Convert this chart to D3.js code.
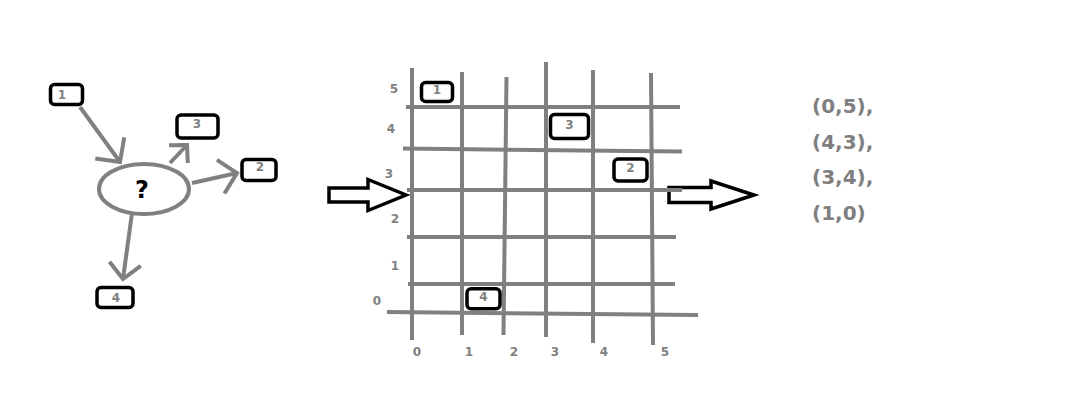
<!DOCTYPE html>
<html><head><meta charset="utf-8">
<script src="https://cdn.jsdelivr.net/npm/d3@7"></script>
<style>html,body{margin:0;padding:0;background:#fff;}svg{display:block}</style>
</head><body><svg id="c" width="1088" height="417"></svg>
<script>
// ---------- data ----------
const nodeIds = [1, 2, 3, 4];
const pointX = [0, 4, 3, 1];          // grid column of node 1..4
const pointY = [5, 3, 4, 0];          // grid row of node 1..4
const gridXTicks = [0, 1, 2, 3, 4, 5];
const gridYTicks = [0, 1, 2, 3, 4, 5];
const edgeFrom = ["1", "?", "?", "?"];
const edgeTo   = ["?", "3", "2", "4"];

// ---------- layout / style ----------
const GRAY = "#808080", BLACK = "#000";
const FONT = "'DejaVu Sans', sans-serif";
const svg = d3.select("#c");

// left diagram layout (hand-drawn placement)
const nodePos = {
  "1": {cx: 66.5, cy: 94.5, w: 32, h: 20, lx: 62, ly: 99},
  "3": {cx: 197.5, cy: 126.5, w: 41, h: 23, lx: 197, ly: 128},
  "2": {cx: 259, cy: 170, w: 34, h: 21, lx: 260, ly: 171},
  "4": {cx: 115, cy: 297.5, w: 36, h: 20, lx: 116, ly: 302}
};
const edgeShaft = [
  [[80, 107], [120, 162]],
  [[170, 163], [187, 145]],
  [[192, 183], [237, 173]],
  [[132, 213], [123, 279]]
];
const armLen = [25, 18, 24, 22];

// grid scales (hand-drawn spacing, polylinear)
const xLine = d3.scaleLinear().domain([0, 1, 2, 3, 4, 5]).range([412, 462, 505, 546, 593, 652]);
const yLine = d3.scaleLinear().domain([0, 1, 2, 3, 4, 5, 6]).range([313.5, 284, 237, 190, 150, 107, 77]);
const vTop = [68, 72, 77, 62, 70, 73], vBot = [340, 335, 335, 337, 343, 345];
const vTilt = [0, 0, -3, 0, 0, 2];
const hLeft = [387, 408, 407, 407, 403, 406], hRight = [698, 675, 676, 682, 682, 680];
const hTilt = [3, 0, 0, 0, 3, 0];
const xLab = d3.scaleLinear().domain([0, 1, 2, 3, 4, 5]).range([417, 469, 514, 555, 604, 665]);
const yLabY = d3.scaleLinear().domain([0, 1, 2, 3, 4, 5]).range([305, 270, 223, 178, 133, 93]);
const yLabX = [377, 395, 395, 389, 391, 394];
const gridBox = {
  "1": {w: 31, h: 19, dx: 0, dy: 0},
  "3": {w: 38, h: 24, dx: 0, dy: -2},
  "2": {w: 33, h: 22, dx: 8, dy: 0},
  "4": {w: 33, h: 20, dx: 0, dy: 0}
};

// ---------- hollow arrows (drawn first so gray strokes lie on top) ----------
function hollowArrow(x0, xh, xt, yc, sh, hh) {
  const pts = [[x0, yc - sh], [xh, yc - sh], [xh, yc - hh], [xt, yc], [xh, yc + hh], [xh, yc + sh], [x0, yc + sh]];
  return d3.line()(pts) + "Z";
}
svg.append("path").attr("d", hollowArrow(329, 368, 406, 195, 7, 15.5))
  .attr("fill", "#fff").attr("stroke", BLACK).attr("stroke-width", 3.5).attr("stroke-linejoin", "miter");
svg.append("path").attr("d", hollowArrow(669, 711, 754, 195, 7.5, 14))
  .attr("fill", "#fff").attr("stroke", BLACK).attr("stroke-width", 3.5).attr("stroke-linejoin", "miter");

// ---------- left diagram ----------
const L = svg.append("g");
L.append("ellipse").attr("cx", 144).attr("cy", 189).attr("rx", 45).attr("ry", 25)
  .attr("fill", "none").attr("stroke", GRAY).attr("stroke-width", 4);
L.append("text").attr("x", 142).attr("y", 198).attr("text-anchor", "middle")
  .attr("font-family", FONT).attr("font-weight", "bold").attr("font-size", 24)
  .attr("fill", BLACK).text("?");

edgeFrom.forEach((f, i) => {
  const [a, b] = edgeShaft[i];
  const ang = Math.atan2(a[1] - b[1], a[0] - b[0]);
  const arm = s => [b[0] + armLen[i] * Math.cos(ang + s), b[1] + armLen[i] * Math.sin(ang + s)];
  const g = L.append("g").attr("fill", "none").attr("stroke", GRAY).attr("stroke-width", 4);
  g.append("path").attr("d", d3.line()([a, b]));
  g.append("path").attr("d", d3.line()([arm(0.8), b, arm(-0.8)])).attr("stroke-linejoin", "miter");
});

nodeIds.forEach(id => {
  const p = nodePos[id];
  L.append("rect").attr("x", p.cx - p.w / 2).attr("y", p.cy - p.h / 2)
    .attr("width", p.w).attr("height", p.h).attr("rx", 4)
    .attr("fill", "#fff").attr("stroke", BLACK).attr("stroke-width", 3.5);
  L.append("text").attr("x", p.lx).attr("y", p.ly).attr("text-anchor", "middle")
    .attr("font-family", FONT).attr("font-weight", "bold").attr("font-size", 12)
    .attr("fill", GRAY).text(id);
});

// ---------- grid ----------
const G = svg.append("g");
gridXTicks.forEach((t, i) => {
  G.append("line").attr("x1", xLine(t) - vTilt[i] / 2).attr("x2", xLine(t) + vTilt[i] / 2)
    .attr("y1", vTop[i]).attr("y2", vBot[i])
    .attr("stroke", GRAY).attr("stroke-width", 4);
});
gridYTicks.forEach((t, i) => {
  G.append("line").attr("x1", hLeft[i]).attr("x2", hRight[i])
    .attr("y1", yLine(t) - hTilt[i] / 2).attr("y2", yLine(t) + hTilt[i] / 2)
    .attr("stroke", GRAY).attr("stroke-width", 4);
});
G.selectAll("text.xl").data(gridXTicks).join("text").attr("class", "xl")
  .attr("x", d => xLab(d)).attr("y", 356).attr("text-anchor", "middle")
  .attr("font-family", FONT).attr("font-weight", "bold").attr("font-size", 12)
  .attr("fill", GRAY).text(d => d);
G.selectAll("text.yl").data(gridYTicks).join("text").attr("class", "yl")
  .attr("x", (d, i) => yLabX[i]).attr("y", d => yLabY(d)).attr("text-anchor", "middle")
  .attr("font-family", FONT).attr("font-weight", "bold").attr("font-size", 12)
  .attr("fill", GRAY).text(d => d);

nodeIds.forEach((id, i) => {
  const b = gridBox[id];
  const cx = (xLine(pointX[i]) + xLine(Math.min(pointX[i] + 1, 5))) / 2 + b.dx;
  const cy = (yLine(pointY[i]) + yLine(pointY[i] + 1)) / 2 + b.dy;
  G.append("rect").attr("x", cx - b.w / 2).attr("y", cy - b.h / 2)
    .attr("width", b.w).attr("height", b.h).attr("rx", 4)
    .attr("fill", "#fff").attr("stroke", BLACK).attr("stroke-width", 3.5);
  G.append("text").attr("x", cx).attr("y", cy + 2).attr("text-anchor", "middle")
    .attr("font-family", FONT).attr("font-weight", "bold").attr("font-size", 12)
    .attr("fill", GRAY).text(id);
});

// ---------- result list ----------
const lineY = d3.scaleLinear().domain([0, 3]).range([113, 220]);
nodeIds.forEach((id, i) => {
  svg.append("text").attr("x", 812).attr("y", lineY(i))
    .attr("font-family", FONT).attr("font-weight", "bold").attr("font-size", 20)
    .attr("fill", "#7f7f7f")
    .text(`(${pointX[i]},${pointY[i]})` + (i < nodeIds.length - 1 ? "," : ""));
});
</script>
</body></html>
